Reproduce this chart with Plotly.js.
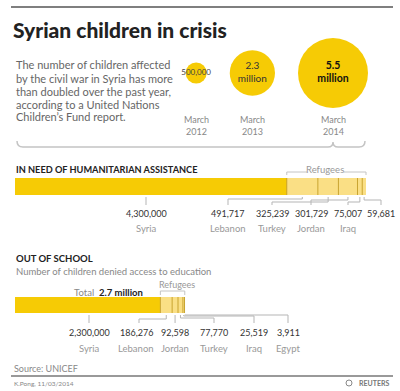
<!DOCTYPE html>
<html><head><meta charset="utf-8">
<script src="https://cdn.plot.ly/plotly-3.0.1.min.js"></script>
<style>html,body{margin:0;padding:0;background:#fff}</style>
</head><body><div id="chart" style="width:400px;height:391px"></div>
<script>
// ---------------- data ----------------
const bubbleYears = ["March<br>2012", "March<br>2013", "March<br>2014"];
const bubbleValues = [500000, 2300000, 5500000];
const bubbleLabels = ["500,000", "2.3<br>million", "<b>5.5<br>million</b>"];

const needCountries = ["Syria", "Lebanon", "Turkey", "Jordan", "Iraq", ""];
const needValues = [4300000, 491717, 325239, 301729, 75007, 59681];

const schoolCountries = ["Syria", "Lebanon", "Jordan", "Turkey", "Iraq", "Egypt"];
const schoolValues = [2300000, 186276, 92598, 77770, 25519, 3911];
const schoolTotalText = "2.7 million";

const introLines = ["The number of children affected", "by the civil war in Syria has more",
  "than doubled over the past year,", "according to a United Nations", "Children’s Fund report."];

// ---------------- layout constants ----------------
const W = 400, H = 391;
const FONT = 'Lato, "Source Sans Pro", sans-serif';
const YELLOW = '#F6CB05', LIGHT = '#FADF85', DIV = '#C9A431';
const barLeftPx = 15, barRightPx = 366;
const needLabelPx = [146, 228, 272, 311, 348, 381];
const needLevelPx = [0, 199, 202, 200, 202, 200];
const schoolLabelPx = [89, 139, 175, 214, 254, 288];
const schoolLevelPx = [0, 319, 0, 318, 316, 315];

const fmt = v => v.toLocaleString('en-US');
const sum = a => a.reduce((p, c) => p + c, 0);
const py = y => 1 - y / H;
const needTotal = sum(needValues);
const scale = (barRightPx - barLeftPx) / needTotal;           // px per unit
const xRange = [-barLeftPx / scale, (W - barLeftPx) / scale];
const pxToX = p => xRange[0] + p / W * (xRange[1] - xRange[0]);
const cumul = a => { let c = 0; return a.map(v => (c += v)); };

const traces = [];
const shapes = [];
const annotations = [];
function ann(text, x, y, o = {}) {
  const font = { family: FONT, size: o.size || 10, color: o.color || '#333' };
  if (o.weight) font.weight = o.weight;
  annotations.push({
    text, x: x / W, y: py(y), xref: 'paper', yref: 'paper', showarrow: false,
    xanchor: o.xa || 'center', yanchor: o.ya || 'middle', align: o.align || 'center', font
  });
}

// ---------------- bubbles ----------------
const maxV = Math.max(...bubbleValues);
const diam = bubbleValues.map(v => 70 * Math.sqrt(v / maxV));
const centers = [];
{
  let right = 368, gap = 23;
  for (let i = diam.length - 1; i >= 0; i--) {
    centers[i] = right - diam[i] / 2;
    right = centers[i] - diam[i] / 2 - gap;
  }
}
traces.push({
  type: 'scatter', mode: 'markers+text', xaxis: 'x2', yaxis: 'y3',
  x: centers, y: bubbleValues.map(() => 0), text: bubbleLabels,
  textposition: 'middle center', cliponaxis: false, hoverinfo: 'skip',
  textfont: { family: FONT, size: [8, 10, 10.5], color: ['#444', '#333', '#111'] },
  marker: { size: diam, sizemode: 'diameter', color: YELLOW, line: { width: 0 }, opacity: 1 }
});
bubbleYears.forEach((t, i) => ann(t, centers[i], 125, { size: 9, color: '#888' }));

// ---------------- bars ----------------
function addBar(values, yaxis) {
  values.forEach((v, i) => {
    traces.push({
      type: 'bar', orientation: 'h', x: [v], y: [0], xaxis: 'x', yaxis,
      width: 1, hoverinfo: 'skip', showlegend: false,
      marker: { color: i === 0 ? YELLOW : LIGHT, line: { width: 0 } }
    });
  });
  const c = cumul(values);
  c.slice(0, -1).forEach(b => shapes.push({
    type: 'line', xref: 'x', yref: yaxis + ' domain', x0: b, x1: b, y0: 0, y1: 1,
    line: { color: DIV, width: 1 }
  }));
  return c;
}
const needCum = addBar(needValues, 'y');
const schoolCum = addBar(schoolValues, 'y2');

const mids = (vals, cum) => vals.map((v, i) => cum[i] - v / 2);
const needMid = mids(needValues, needCum);
const schoolMid = mids(schoolValues, schoolCum);

const LEAD = '#b5b5b5';
function leaders(labelPx, levelPx, mid, barBottom, labelTop) {
  labelPx.forEach((lp, i) => {
    const lx = pxToX(lp);
    let path;
    if (!levelPx[i]) {
      const xx = i === 0 ? lx : mid[i];
      path = `M${xx},${py(barBottom)} L${xx},${py(labelTop)}`;
    } else {
      path = `M${lx},${py(labelTop)} L${lx},${py(levelPx[i])} L${mid[i]},${py(levelPx[i])} L${mid[i]},${py(barBottom)}`;
    }
    shapes.push({ type: 'path', xref: 'x', yref: 'paper', path, line: { color: LEAD, width: 1 } });
  });
}
leaders(needLabelPx, needLevelPx, needMid, 197, 205);
leaders(schoolLabelPx, schoolLevelPx, schoolMid, 315, 323);

needValues.forEach((v, i) => {
  ann(fmt(v), needLabelPx[i], 213, { size: 9, color: '#333' });
  if (needCountries[i]) ann(needCountries[i], needLabelPx[i], 228, { size: 9.5, color: '#999' });
});
schoolValues.forEach((v, i) => {
  const lx = schoolLabelPx[i] - (i === 1 ? 3 : 0);
  ann(fmt(v), lx, 332, { size: 9, color: '#333' });
  ann(schoolCountries[i], lx, 348, { size: 9.5, color: '#999' });
});

// ---------------- texts ----------------
ann('Syrian children in crisis', 11, 29, { xa: 'left', size: 21, color: '#222', weight: 900 });
introLines.forEach((t, i) => ann(t, 14, 65 + i * 13, { xa: 'left', size: 11, color: '#666' }));
ann('<b>IN NEED OF HUMANITARIAN ASSISTANCE</b>', 14, 169, { xa: 'left', size: 9.2, color: '#222' });
ann('Refugees', 325, 169, { size: 9.5, color: '#999' });
ann('<b>OUT OF SCHOOL</b>', 14, 258, { xa: 'left', size: 9.5, color: '#222' });
ann('Number of children denied access to education', 14, 271, { xa: 'left', size: 9.5, color: '#888' });
ann('Total  <span style="color:#222"><b>' + schoolTotalText + '</b></span>', 72, 292, { xa: 'left', size: 9.5, color: '#888' });
ann('Refugees', 177, 284, { size: 9, color: '#999' });
ann('Source: UNICEF', 12, 368, { xa: 'left', size: 9, color: '#888' });
ann('K.Pong, 11/03/2014', 12, 383, { xa: 'left', size: 6.5, color: '#888' });
ann('<b>REUTERS</b>', 391, 383, { xa: 'right', size: 7, color: '#777' });

// rules and brackets
const line = (x0, y0, x1, y1, color, width) => shapes.push({ type: 'line', xref: 'paper', yref: 'paper',
  x0: x0 / W, x1: x1 / W, y0: py(y0), y1: py(y1), line: { color, width } });
line(11, 7, 393, 7, '#555', 1.5);
line(11, 376, 393, 376, '#777', 1.5);
// brace under bubbles
shapes.push({ type: 'path', xref: 'paper', yref: 'paper', line: { color: '#c4c4c4', width: 1.5 },
  path: `M${17 / W},${py(141)} Q${17 / W},${py(147)} ${23 / W},${py(147)} L${328 / W},${py(147)} Q${333 / W},${py(147)} ${333 / W},${py(142)} Q${333 / W},${py(147)} ${338 / W},${py(147)} L${359 / W},${py(147)} Q${365 / W},${py(147)} ${365 / W},${py(141)}` });
// refugees bracket (need)
const bx0 = needCum[0], bx1 = needCum[needCum.length - 1];
shapes.push({ type: 'path', xref: 'x', yref: 'paper', line: { color: '#c4c4c4', width: 1 },
  path: `M${bx0},${py(175)} L${bx0},${py(172)} L${pxToX(307)},${py(172)} M${pxToX(344)},${py(172)} L${bx1},${py(172)} L${bx1},${py(175)}` });
// refugees bracket (school)
const sx0 = schoolCum[0], sx1 = schoolCum[schoolCum.length - 1];
shapes.push({ type: 'path', xref: 'x', yref: 'paper', line: { color: '#c4c4c4', width: 1 },
  path: `M${sx0},${py(295)} L${sx0},${py(291)} L${sx1},${py(291)} L${sx1},${py(295)}` });
// reuters logo dot
shapes.push({ type: 'circle', xref: 'paper', yref: 'paper', x0: 346 / W, x1: 352 / W, y0: py(386), y1: py(380),
  line: { color: '#888', width: 1 }, fillcolor: 'rgba(0,0,0,0)' });

const hidden = { visible: false, fixedrange: true };
const layout = {
  width: W, height: H, margin: { l: 0, r: 0, t: 0, b: 0 },
  paper_bgcolor: '#fff', plot_bgcolor: 'rgba(0,0,0,0)', showlegend: false,
  barmode: 'stack', bargap: 0,
  xaxis: Object.assign({ range: xRange, domain: [0, 1], anchor: 'y' }, hidden),
  yaxis: Object.assign({ range: [-0.5, 0.5], domain: [py(195), py(178)] }, hidden),
  yaxis2: Object.assign({ range: [-0.5, 0.5], domain: [py(313), py(297)], anchor: 'x' }, hidden),
  xaxis2: Object.assign({ range: [0, W], domain: [0, 1], anchor: 'y3' }, hidden),
  yaxis3: Object.assign({ range: [-1, 1], domain: [py(110), py(36)], anchor: 'x2' }, hidden),
  shapes, annotations
};
Plotly.newPlot('chart', traces, layout, { displayModeBar: false, staticPlot: true });
</script></body></html>
